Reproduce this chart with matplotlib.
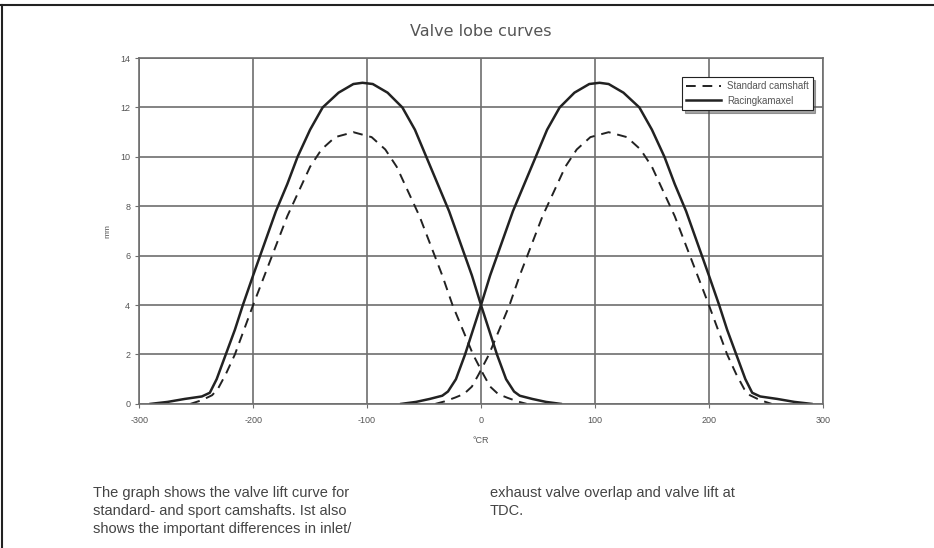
import matplotlib.pyplot as plt
from matplotlib.lines import Line2D

plt.rcParams['font.family'] = ['Liberation Sans', 'DejaVu Sans']
plt.rcParams['axes.unicode_minus'] = False

# racing cam, inlet/exhaust lobes (crank degrees, lift mm)
race_ex_x = [-290, -275, -260, -245, -238, -232, -224, -216, -209, -200, -190, -180, -170, -161, -150,
             -139, -125, -112, -104, -95, -82, -69, -58, -48, -38, -28, -18, -8, 0, 7, 14, 22, 29,
             34, 45, 57, 70]
race_ex_y = [0, 0.08, 0.2, 0.3, 0.45, 1.0, 2.0, 3.0, 4.0, 5.2, 6.5, 7.8, 8.9, 10.0, 11.1,
             12.0, 12.6, 12.95, 13.0, 12.95, 12.6, 12.0, 11.1, 10.0, 8.9, 7.8, 6.5, 5.2, 4.0, 3.0, 2.0, 1.0, 0.5,
             0.33, 0.2, 0.08, 0]
race_in_x = [-70, -57, -45, -34, -29, -22, -14, -7, 0, 8, 18, 28, 38, 48, 58, 69, 82, 95, 104,
             112, 125, 139, 150, 161, 170, 180, 190, 200, 209, 216, 224, 232, 238, 245, 260, 275, 290]
race_in_y = [0, 0.08, 0.2, 0.33, 0.5, 1.0, 2.0, 3.0, 4.0, 5.2, 6.5, 7.8, 8.9, 10.0, 11.1, 12.0, 12.6, 12.95, 13.0,
             12.95, 12.6, 12.0, 11.1, 10.0, 8.9, 7.8, 6.5, 5.2, 4.0, 3.0, 2.0, 1.0, 0.45, 0.3, 0.2, 0.08, 0]

# standard cam
std_ex_x = [-255, -245, -236, -231, -224, -216, -208, -200, -190, -180, -170, -160, -150, -140, -128,
            -112, -96, -84, -74, -64, -54, -44, -34, -25, -16, -7, 2, 8, 15, 23, 32, 40]
std_ex_y = [0, 0.15, 0.35, 0.6, 1.2, 2.0, 3.0, 4.0, 5.2, 6.4, 7.6, 8.6, 9.6, 10.3, 10.8,
            11.0, 10.8, 10.3, 9.6, 8.6, 7.6, 6.4, 5.2, 4.0, 3.0, 2.0, 1.2, 0.7, 0.4, 0.25, 0.1, 0]
std_in_x = [-40, -32, -23, -15, -8, -2, 7, 16, 25, 34, 44, 54, 64, 74, 84, 96,
            112, 128, 140, 150, 160, 170, 180, 190, 200, 208, 216, 224, 231, 236, 245, 255]
std_in_y = [0, 0.1, 0.25, 0.4, 0.7, 1.2, 2.0, 3.0, 4.0, 5.2, 6.4, 7.6, 8.6, 9.6, 10.3, 10.8,
            11.0, 10.8, 10.3, 9.6, 8.6, 7.6, 6.4, 5.2, 4.0, 3.0, 2.0, 1.2, 0.6, 0.35, 0.15, 0]

x_ticks = [-300, -200, -100, 0, 100, 200, 300]
y_ticks = [0, 2, 4, 6, 8, 10, 12, 14]

caption_left = ["The graph shows the valve lift curve for",
                "standard- and sport camshafts. Ist also",
                "shows the important differences in inlet/"]
caption_right = ["exhaust valve overlap and valve lift at",
                 "TDC."]

fig = plt.figure(figsize=(9.34, 5.48), dpi=100)
ax = fig.add_axes([0.149, 0.263, 0.732, 0.631])

ink = '#222222'
grid_c = '#6e6e6e'
txt_c = '#555555'

ax.plot(std_ex_x, std_ex_y, color=ink, lw=1.4, dashes=(5, 3.5), label='Standard camshaft')
ax.plot(std_in_x, std_in_y, color=ink, lw=1.4, dashes=(5, 3.5))
ax.plot(race_ex_x, race_ex_y, color=ink, lw=1.8, label='Racingkamaxel')
ax.plot(race_in_x, race_in_y, color=ink, lw=1.8)

ax.set_xlim(-300, 300)
ax.set_ylim(0, 14)
ax.set_xticks(x_ticks)
ax.set_yticks(y_ticks)
ax.grid(True, color=grid_c, lw=1.2)
ax.set_axisbelow(True)
for s in ax.spines.values():
    s.set_color(grid_c)
    s.set_linewidth(1.2)
ax.tick_params(colors=grid_c, labelcolor=txt_c, labelsize=6.5, length=3, width=0.8)
ax.tick_params(axis='x', pad=6)

ax.set_xlabel('°CR', fontsize=6.5, color=txt_c, labelpad=8)
ax.set_ylabel('mm', fontsize=6, color=txt_c, labelpad=6)
ax.set_title('Valve lobe curves', fontsize=11.5, color=txt_c, pad=16, family='DejaVu Sans')

leg = ax.legend(loc='upper right', fontsize=7, frameon=True, fancybox=False, shadow=True,
                handlelength=3.6, borderpad=0.4, labelspacing=0.5, handletextpad=0.6,
                borderaxespad=0, bbox_to_anchor=(0.985, 0.945))
leg.get_frame().set_edgecolor(ink)
leg.get_frame().set_linewidth(0.8)
for t in leg.get_texts():
    t.set_color(txt_c)

# page frame: top and left edge
fig.add_artist(Line2D([0.001, 1.0], [0.991, 0.991], color='#222222', lw=1.5, transform=fig.transFigure))
fig.add_artist(Line2D([0.002, 0.002], [0.0, 0.991], color='#222222', lw=1.5, transform=fig.transFigure))

for i, line in enumerate(caption_left):
    fig.text(93 / 934, 1 - (493 + 18 * i) / 548, line, fontsize=10.5, color='#444444',
             va='center', ha='left')
for i, line in enumerate(caption_right):
    fig.text(490 / 934, 1 - (493 + 18 * i) / 548, line, fontsize=10.5, color='#444444',
             va='center', ha='left')

fig.savefig('out.png', dpi=100)
